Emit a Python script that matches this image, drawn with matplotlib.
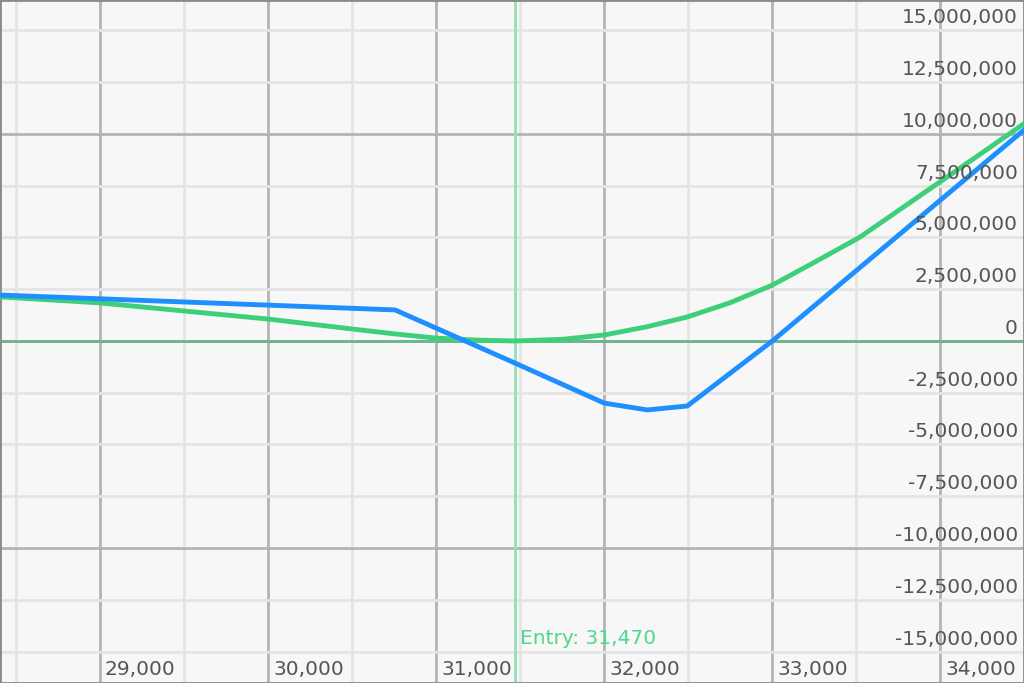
import matplotlib.pyplot as plt
import matplotlib.transforms as mtransforms
from matplotlib.ticker import MultipleLocator
import numpy as np

# price axis values
pnl_now_x = [28406, 30756, 31173, 31470, 32000, 32256, 32494, 33000, 34497]
pnl_now_y = [2.22e6, 1.50e6, 0.0, -1.07e6, -3.00e6, -3.33e6, -3.14e6, 0.0, 10.19e6]

pnl_exp_x = [28406, 29000, 29500, 30000, 30500, 30756, 31000, 31250, 31470, 31750,
             32000, 32250, 32494, 32750, 33000, 33250, 33518, 33750, 34000, 34250, 34497]
pnl_exp_y = [2.13e6, 1.84e6, 1.45e6, 1.06e6, 0.58e6, 0.34e6, 0.14e6, 0.04e6, 0.0, 0.08e6,
             0.29e6, 0.68e6, 1.16e6, 1.85e6, 2.70e6, 3.80e6, 5.00e6, 6.30e6, 7.70e6, 9.10e6, 10.50e6]

entry_price = 31470
x_ticks = [29000, 30000, 31000, 32000, 33000, 34000]
y_ticks = np.arange(-15e6, 15.1e6, 2.5e6)

fig = plt.figure(figsize=(10.24, 6.83), dpi=100)
fig.patch.set_facecolor('#f7f7f7')
ax = fig.add_axes([0, 0, 1, 1])
ax.set_facecolor('#f7f7f7')

ax.set_xlim(28406, 34497)
ax.set_ylim(-16.52e6, 16.47e6)

ax.xaxis.set_major_locator(MultipleLocator(1000))
ax.xaxis.set_minor_locator(MultipleLocator(500))
ax.yaxis.set_major_locator(MultipleLocator(10e6))
ax.yaxis.set_minor_locator(MultipleLocator(2.5e6))
ax.grid(which='minor', color='#e4e4e4', lw=2)
ax.grid(which='major', color='#b4b4b4', lw=2)
ax.set_axisbelow(True)
ax.tick_params(which='both', length=0, labelbottom=False, labelleft=False)

for s in ax.spines.values():
    s.set_color('#8a8a8a')
    s.set_linewidth(2)

# zero line and entry line
ax.axhline(0, color='#6db58e', lw=2, zorder=2)
ax.axvline(entry_price, color='#92e0b4', lw=2, zorder=2)

ax.plot(pnl_exp_x, pnl_exp_y, color='#3ecf7a', lw=3.5, zorder=3, solid_joinstyle='round')
ax.plot(pnl_now_x, pnl_now_y, color='#1e8fff', lw=3.5, zorder=4, solid_joinstyle='round')

fs = 14.5
txt_col = '#555555'

# y labels inside on the right, just above the gridline
ytr = mtransforms.offset_copy(ax.get_yaxis_transform(), fig=fig, x=-6, y=3, units='dots')
for v in y_ticks:
    ax.text(1.0, v, f'{v:,.0f}', transform=ytr, ha='right', va='bottom',
            fontsize=fs, color=txt_col, zorder=5)

# x labels inside at the bottom, right of the gridline
xtr = mtransforms.offset_copy(ax.get_xaxis_transform(), fig=fig, x=5, y=4, units='dots')
for v in x_ticks:
    ax.text(v, 0.0, f'{v:,}', transform=xtr, ha='left', va='bottom',
            fontsize=fs, color=txt_col, zorder=5)

etr = mtransforms.offset_copy(ax.get_xaxis_transform(), fig=fig, x=5, y=35, units='dots')
ax.text(entry_price, 0.0, f'Entry: {entry_price:,}', transform=etr, ha='left', va='bottom',
        fontsize=fs, color='#4fd88c', zorder=5)

plt.savefig('out.png', dpi=100, facecolor=fig.get_facecolor())
